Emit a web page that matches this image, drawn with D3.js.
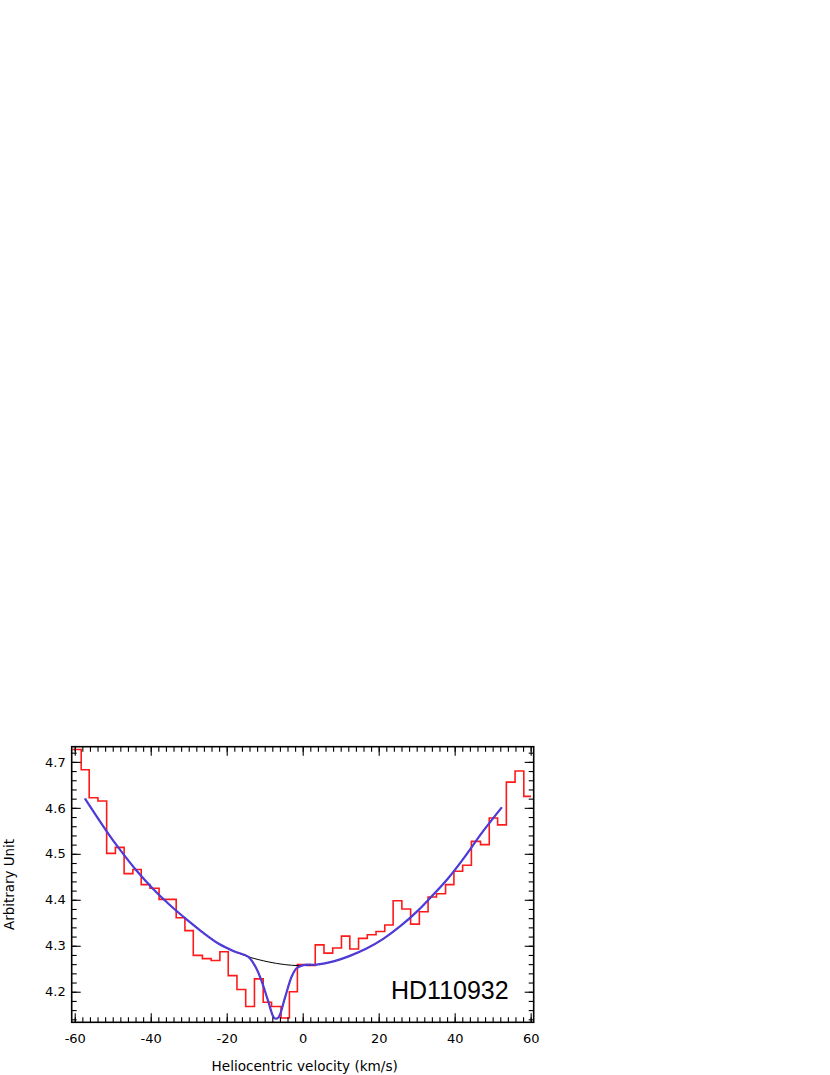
<!DOCTYPE html>
<html>
<head>
<meta charset="utf-8">
<script src="https://cdn.jsdelivr.net/npm/d3@7"></script>
<style>
  body { margin: 0; background: #fff; }
  text { font-family: "DejaVu Sans", sans-serif; }
</style>
</head>
<body>
<svg id="chart" width="830" height="1075"></svg>
<script>
// observed spectrum, left edge of each bin (km/s) and value
var binStart = [-60.6,-58.3,-56.2,-53.9,-51.6,-49.3,-47.0,-44.7,-42.5,-40.2,-37.8,-35.5,-33.3,-31.0,-28.8,-26.4,-24.1,-21.8,-19.6,-17.3,-15.0,-12.7,-10.4,-8.2,-5.7,-3.5,-1.4,1.0,3.3,5.6,7.9,10.2,12.4,14.7,17.0,19.3,21.6,23.8,26.1,28.4,30.7,33.0,35.2,37.6,39.8,42.1,44.4,46.8,49.1,51.3,53.6,55.9,58.2]
var binFlux = [4.727,4.683,4.622,4.615,4.501,4.514,4.457,4.466,4.433,4.425,4.401,4.401,4.361,4.333,4.279,4.272,4.268,4.287,4.235,4.205,4.168,4.228,4.177,4.168,4.143,4.200,4.259,4.257,4.302,4.284,4.295,4.321,4.293,4.316,4.324,4.331,4.345,4.398,4.380,4.347,4.374,4.406,4.413,4.433,4.462,4.475,4.527,4.520,4.578,4.563,4.656,4.680,4.625]
var binEnd = 60.1

// continuum (black)
var contVel = [-57.3,-51.6,-48.1,-43.7,-39.3,-34.9,-30.1,-26.6,-22.2,-17.8,-14.3,-9.1,-4.7,-1.2,3.7,8.1,12.4,16.8,21.2,25.6,30.4,33.9,38.3,42.7,47.1,52.4]
var contFlux = [4.620,4.549,4.509,4.463,4.423,4.388,4.354,4.331,4.305,4.287,4.276,4.265,4.259,4.257,4.259,4.266,4.278,4.294,4.315,4.342,4.377,4.407,4.447,4.494,4.545,4.601]

// fit with absorption (blue), the dip part only
var dipVel = [-14.3,-12.1,-10.6,-9.1,-7.4,-6.4,-4.7,-2.9,-1.6,0.2]
var dipFlux = [4.276,4.249,4.218,4.180,4.142,4.144,4.186,4.233,4.251,4.258]

var xMajor = [-60,-40,-20,0,20,40,60]
var yMajor = [4.2,4.3,4.4,4.5,4.6,4.7]
var starName = "HD110932"

var L = 71.7, R = 533.7, T = 746.7, B = 1022.3
var svg = d3.select("#chart")

var x = d3.scaleLinear().domain([-60.8, 60.8]).range([L, R])
var y = d3.scaleLinear().domain([4.1335, 4.733]).range([B, T])

var xMinor = d3.range(-60, 61, 2)
var yMinor = d3.range(4.14, 4.73, 0.02)

svg.append("clipPath").attr("id", "clip")
  .append("rect").attr("x", L).attr("y", T).attr("width", R - L).attr("height", B - T)

// histogram
var hist = binStart.map((v, i) => [v, binFlux[i]])
hist.push([binEnd, binFlux[binFlux.length - 1]])
svg.append("path")
  .attr("clip-path", "url(#clip)")
  .attr("d", d3.line().x(d => x(d[0])).y(d => y(d[1])).curve(d3.curveStepAfter)(hist))
  .attr("fill", "none")
  .attr("stroke", "#ff1a1a")
  .attr("stroke-width", 1.6)

// continuum
var cont = contVel.map((v, i) => [v, contFlux[i]])
var smooth = d3.line().x(d => x(d[0])).y(d => y(d[1])).curve(d3.curveCatmullRom.alpha(0.5))
svg.append("path")
  .attr("d", smooth(cont))
  .attr("fill", "none")
  .attr("stroke", "#000")
  .attr("stroke-width", 1)

// fit
var fit = cont.filter(d => d[0] < -14.3)
  .concat(dipVel.map((v, i) => [v, dipFlux[i]]))
  .concat(cont.filter(d => d[0] > 0.2))
var fitPath = smooth(fit)
svg.append("path")
  .attr("d", fitPath)
  .attr("fill", "none")
  .attr("stroke", "#3b3be6")
  .attr("stroke-width", 2.2)
svg.append("path")
  .attr("d", fitPath)
  .attr("fill", "none")
  .attr("stroke", "#e0305a")
  .attr("stroke-width", 0.9)
  .attr("stroke-dasharray", "1,2.2")

// axes, ticks inward
var fmt = d => String(d)
function ticks(axis, vals, size, labels) {
  axis.tickValues(vals).tickSize(size)
  axis.tickFormat(labels ? fmt : "")
  return axis
}
function drawAxis(gen, tr) {
  var g = svg.append("g").attr("transform", tr).call(gen)
  g.select(".domain").remove()
  g.selectAll("line").attr("stroke", "#000").attr("stroke-width", 1.1)
  g.selectAll("text").attr("fill", "#000").style("font-size", "13px")
  return g
}
drawAxis(ticks(d3.axisBottom(x), xMinor, -5), `translate(0,${B})`)
drawAxis(ticks(d3.axisBottom(x), xMajor, -9, true).tickPadding(11), `translate(0,${B})`)
drawAxis(ticks(d3.axisTop(x), xMinor, -5), `translate(0,${T})`)
drawAxis(ticks(d3.axisTop(x), xMajor, -9), `translate(0,${T})`)
drawAxis(ticks(d3.axisLeft(y), yMinor, -5), `translate(${L},0)`)
drawAxis(ticks(d3.axisLeft(y), yMajor, -9, true).tickPadding(6), `translate(${L},0)`)
drawAxis(ticks(d3.axisRight(y), yMinor, -5), `translate(${R},0)`)
drawAxis(ticks(d3.axisRight(y), yMajor, -9), `translate(${R},0)`)

svg.append("rect")
  .attr("x", L).attr("y", T).attr("width", R - L).attr("height", B - T)
  .attr("fill", "none").attr("stroke", "#000").attr("stroke-width", 1.6)

// titles
svg.append("text")
  .attr("x", (L + R) / 2 + 2).attr("y", 1071)
  .attr("text-anchor", "middle")
  .style("font-size", "13.6px")
  .text("Heliocentric velocity (km/s)")
svg.append("text")
  .attr("transform", `translate(14,${(T + B) / 2}) rotate(-90)`)
  .attr("text-anchor", "middle")
  .style("font-size", "13.4px")
  .text("Arbitrary Unit")

svg.append("text")
  .attr("x", 391).attr("y", 999)
  .style("font-family", "'Liberation Sans', sans-serif")
  .style("font-size", "25px")
  .text(starName)
</script>
</body>
</html>
